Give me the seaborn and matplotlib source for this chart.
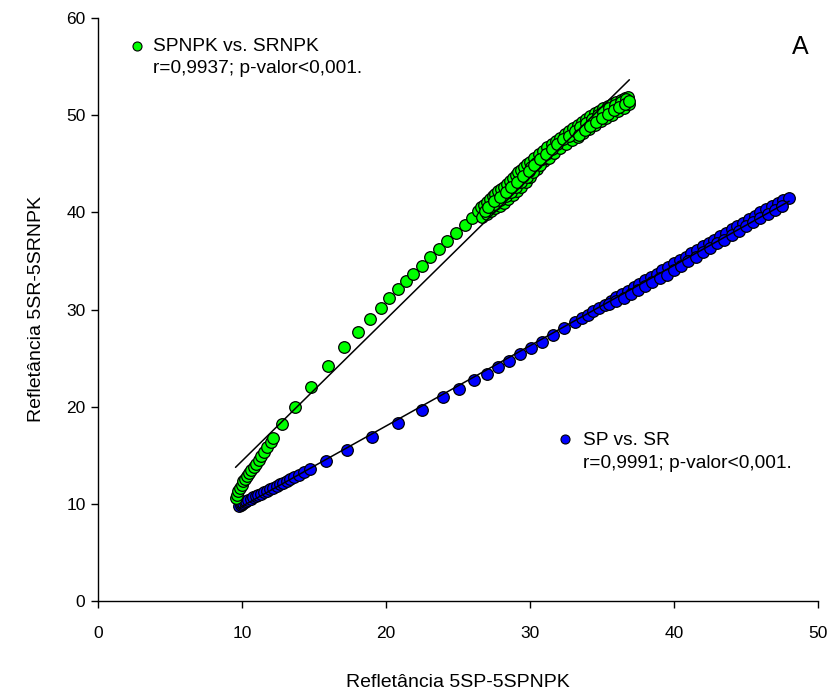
import matplotlib
matplotlib.use("Agg")
import matplotlib.pyplot as plt
import seaborn as sns
import pandas as pd
import numpy as np

# ---- data: SPNPK vs. SRNPK (green) ----
green_x = [9.55, 9.63, 9.75, 9.86, 9.98, 10.1, 10.22, 10.35, 10.5, 10.65, 10.8, 10.97,
           11.15, 11.3, 11.5, 11.75, 12.0, 12.17,
           12.8, 13.68, 14.79, 15.95, 17.1, 18.08, 18.89, 19.63, 20.23, 20.8, 21.37, 21.9,
           22.48, 23.08, 23.68, 24.26, 24.86, 25.46, 26.0, 26.37,
           26.6, 26.8, 27.0, 27.2, 27.4, 27.6, 27.8, 28.0, 28.2, 28.4, 28.6, 28.8, 29.0,
           29.2, 29.4, 29.6, 29.8, 30.0, 30.3, 30.6, 30.9, 31.2, 31.5, 31.8, 32.1, 32.4,
           32.7, 33.0, 33.3, 33.6, 33.9, 34.2, 34.5, 34.8, 35.1, 35.4, 35.7, 36.0, 36.3,
           36.6, 36.8,
           26.7, 27.0, 27.3, 27.6, 27.9, 28.2, 28.5, 28.8, 29.1, 29.4, 29.7, 30.0, 30.5,
           31.0, 31.5, 32.0, 32.5, 33.0, 33.5, 34.0, 34.5, 35.0, 35.5, 36.0, 36.5,
           26.9, 27.25, 27.6, 27.95, 28.3, 28.65, 29.0, 29.4, 29.8, 30.2, 30.7, 31.2,
           31.7, 32.2, 32.7, 33.2, 33.7, 34.2, 34.7, 35.2, 35.7, 36.2, 36.7,
           30.1, 30.45, 30.8, 31.15, 31.5, 31.85, 32.2, 32.55, 32.9, 33.25, 33.6, 33.95,
           34.3, 34.65, 35.0, 35.35, 35.7, 36.05, 36.4, 36.75,
           31.3, 31.7, 32.1, 32.5, 32.9, 33.3, 33.7, 34.1, 34.5, 34.9, 35.3, 35.7, 36.1,
           36.5, 36.9,
           27.1, 27.5, 27.9, 28.3, 28.7, 29.1, 29.5, 29.9, 30.3, 30.7, 31.1, 31.5, 31.9,
           32.3, 32.7, 33.1, 33.5, 33.9, 34.3, 34.7, 35.1, 35.5, 35.9, 36.3, 36.7,
           33.4, 33.8, 34.2, 34.6, 35.0, 35.4, 35.8, 36.2, 36.6, 36.9]
green_y = [10.55, 10.9, 11.3, 11.6, 11.95, 12.3, 12.6, 12.9, 13.2, 13.5, 13.8, 14.15,
           14.55, 14.9, 15.3, 15.85, 16.4, 16.8,
           18.2, 19.95, 22.05, 24.18, 26.14, 27.68, 29.02, 30.19, 31.15, 32.08, 32.9, 33.69,
           34.51, 35.37, 36.22, 37.08, 37.87, 38.73, 39.4, 40.1,
           40.5, 40.8, 41.1, 41.4, 41.65, 41.9, 42.15, 42.4, 42.65, 42.9, 43.2, 43.5, 43.8,
           44.1, 44.4, 44.7, 44.95, 45.2, 45.6, 46.0, 46.35, 46.7, 47.0, 47.35, 47.7, 48.05,
           48.4, 48.7, 49.0, 49.3, 49.6, 49.9, 50.2, 50.45, 50.7, 50.95, 51.15, 51.35, 51.55,
           51.75, 51.9,
           39.5, 39.8, 40.1, 40.4, 40.7, 41.0, 41.4, 41.8, 42.2, 42.6, 43.1, 43.6, 44.5,
           45.3, 46.0, 46.6, 47.2, 47.8, 48.4, 48.9, 49.4, 49.9, 50.4, 50.9, 51.4,
           40.1, 40.5, 40.9, 41.3, 41.7, 42.1, 42.6, 43.1, 43.6, 44.2, 44.9, 45.6,
           46.3, 46.9, 47.5, 48.1, 48.6, 49.1, 49.6, 50.1, 50.6, 51.0, 51.5,
           44.7, 45.1, 45.5, 45.9, 46.3, 46.7, 47.1, 47.5, 47.85, 48.2, 48.55, 48.9,
           49.25, 49.55, 49.85, 50.15, 50.45, 50.75, 51.0, 51.3,
           45.6, 46.1, 46.6, 47.0, 47.4, 47.8, 48.2, 48.6, 49.0, 49.35, 49.7, 50.05, 50.4,
           50.75, 51.1,
           40.6, 41.2, 41.6, 42.1, 42.6, 43.1, 43.7, 44.3, 44.9, 45.5, 46.0, 46.5, 47.0,
           47.5, 47.9, 48.35, 48.8, 49.2, 49.6, 50.0, 50.35, 50.7, 51.05, 51.35, 51.65,
           48.0, 48.5, 48.9, 49.3, 49.7, 50.1, 50.5, 50.85, 51.2, 51.5]

# ---- data: SP vs. SR (blue) ----
blue_x = [9.8, 9.9, 10.0, 10.1, 10.2, 10.3, 10.44, 10.6, 10.79, 10.95, 11.13, 11.3,
          11.55, 11.75, 11.94, 12.15, 12.41, 12.65, 12.87, 13.1, 13.33, 13.6, 13.96, 14.3,
          14.72, 15.81, 17.27, 19.0, 20.81, 22.48, 23.93, 25.09, 26.11, 26.99, 27.8, 28.56,
          29.31, 30.07, 30.86, 31.62, 32.38, 33.15,
          33.6, 34.0, 34.4, 34.8, 35.2, 35.6, 36.0, 36.4, 36.8, 37.2, 37.6, 38.0, 38.4,
          38.8, 39.2, 39.6, 40.0, 40.4, 40.8, 41.2, 41.6, 42.0, 42.4, 42.8, 43.2, 43.6,
          44.0, 44.4, 44.8, 45.2, 45.6, 46.0, 46.4, 46.8, 47.2, 47.6, 48.0,
          35.5, 36.0, 36.5, 37.0, 37.5, 38.0, 38.5, 39.0, 39.5, 40.0, 40.5, 41.0, 41.5,
          42.0, 42.5, 43.0, 43.5, 44.0, 44.5, 45.0, 45.5, 46.0, 46.5, 47.0, 47.5]
blue_y = [9.75, 9.85, 9.95, 10.05, 10.15, 10.25, 10.39, 10.52, 10.67, 10.8, 10.91, 11.05,
          11.22, 11.36, 11.49, 11.65, 11.83, 12.0, 12.17, 12.35, 12.52, 12.72, 12.97, 13.25,
          13.58, 14.44, 15.54, 16.91, 18.3, 19.7, 21.03, 21.85, 22.74, 23.36, 24.05, 24.73,
          25.42, 26.04, 26.69, 27.41, 28.06, 28.68,
          29.1, 29.45, 29.8, 30.15, 30.5, 30.85, 31.25, 31.6, 31.95, 32.3, 32.65, 33.0, 33.35,
          33.7, 34.05, 34.4, 34.75, 35.1, 35.45, 35.8, 36.15, 36.5, 36.85, 37.2, 37.55, 37.9,
          38.25, 38.6, 38.95, 39.3, 39.65, 40.0, 40.35, 40.7, 41.0, 41.3, 41.5,
          30.6, 30.9, 31.2, 31.6, 32.0, 32.4, 32.8, 33.2, 33.6, 34.1, 34.5, 35.0, 35.4,
          35.9, 36.3, 36.8, 37.2, 37.7, 38.1, 38.6, 39.0, 39.4, 39.8, 40.2, 40.7]

green_label = "SPNPK vs. SRNPK"
green_stats = "r=0,9937; p-valor<0,001."
blue_label = "SP vs. SR"
blue_stats = "r=0,9991; p-valor<0,001."
x_ticks = [0, 10, 20, 30, 40, 50]
y_ticks = [0, 10, 20, 30, 40, 50, 60]

df_g = pd.DataFrame({"x": green_x, "y": green_y})
df_b = pd.DataFrame({"x": blue_x, "y": blue_y})

sns.set_theme(style="ticks")
plt.rcParams["font.family"] = ["Liberation Sans", "DejaVu Sans"]

fig = plt.figure(figsize=(8.34, 7.0), dpi=100)
ax = fig.add_axes([98 / 834, 99 / 700, 720 / 834, 583 / 700])

sc_kw = dict(s=70, edgecolors="black", linewidths=0.9, alpha=1)
ln_kw = dict(color="black", lw=1.1)
sns.regplot(data=df_b, x="x", y="y", ax=ax, ci=None,
            scatter_kws=dict(color="#0000FF", **sc_kw), line_kws=ln_kw)
sns.regplot(data=df_g, x="x", y="y", ax=ax, ci=None,
            scatter_kws=dict(color="#00FF00", **sc_kw), line_kws=ln_kw)

ax.set_xlim(0, 50)
ax.set_ylim(0, 60)
ax.set_xticks(x_ticks)
ax.set_yticks(y_ticks)
ax.tick_params(axis="both", direction="out", length=5, width=1, labelsize=12.5,
               color="black", labelcolor="black")
ax.tick_params(axis="x", pad=13)
ax.tick_params(axis="y", pad=4)
for s in ["top", "right"]:
    ax.spines[s].set_visible(False)
for s in ["left", "bottom"]:
    ax.spines[s].set_color("black")
    ax.spines[s].set_linewidth(1)

ax.set_xlabel("Refletância 5SP-5SPNPK", fontsize=14, labelpad=24, color="black")
ax.set_ylabel("Refletância 5SR-5SRNPK", fontsize=14, labelpad=15, color="black")

# in-plot legends
ax.plot([0.054], [0.952], marker="o", ms=6.5, mfc="#00FF00", mec="black", mew=0.8,
        transform=ax.transAxes, clip_on=False, ls="none")
ax.text(0.0764, 0.951, green_label, transform=ax.transAxes, fontsize=13.8,
        va="center", ha="left", color="black")
ax.text(0.0764, 0.913, green_stats, transform=ax.transAxes, fontsize=13.8,
        va="center", ha="left", color="black")

ax.plot([0.649], [0.278], marker="o", ms=6.5, mfc="#0000FF", mec="black", mew=0.8,
        transform=ax.transAxes, clip_on=False, ls="none")
ax.text(0.674, 0.275, blue_label, transform=ax.transAxes, fontsize=13.8,
        va="center", ha="left", color="black")
ax.text(0.674, 0.236, blue_stats, transform=ax.transAxes, fontsize=13.8,
        va="center", ha="left", color="black")

ax.text(0.975, 0.950, "A", transform=ax.transAxes, fontsize=18,
        va="center", ha="center", color="black")

fig.savefig("out.png", dpi=100)
